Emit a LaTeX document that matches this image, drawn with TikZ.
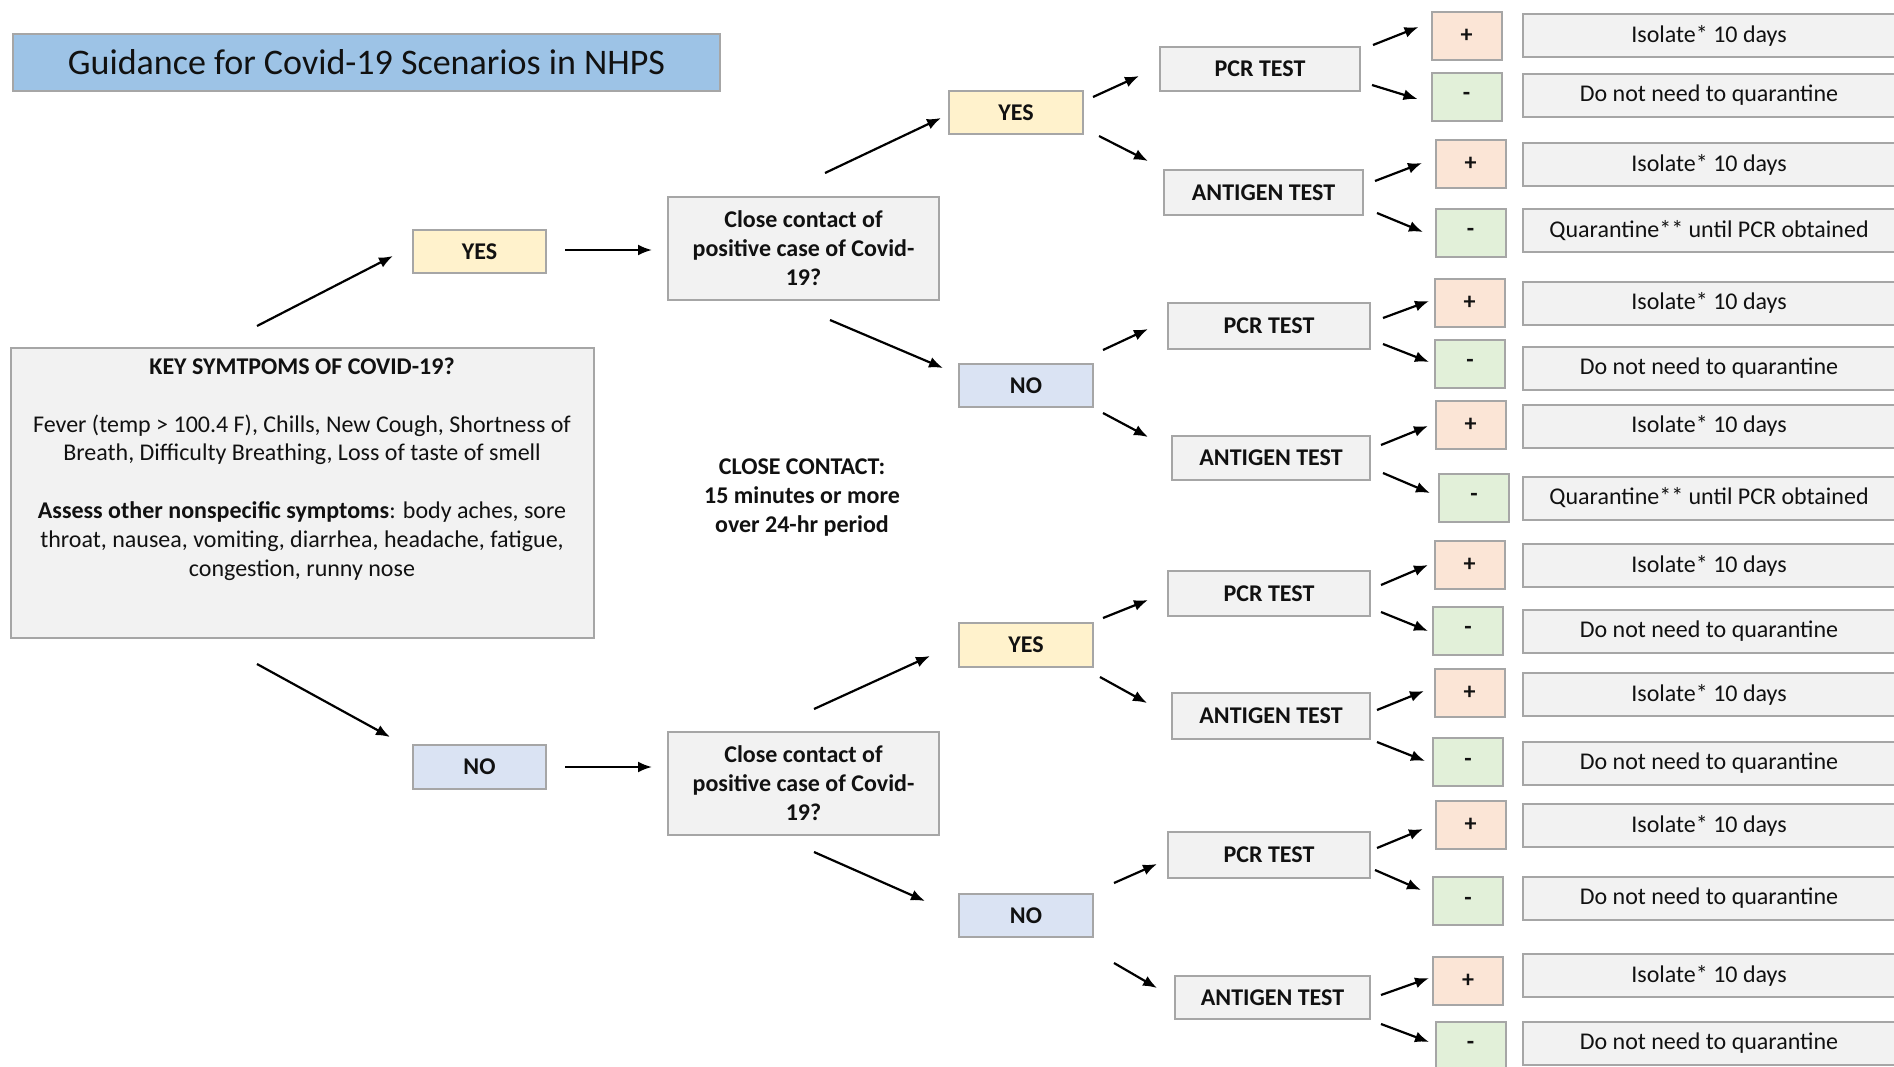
\documentclass[tikz,border=0pt]{standalone}
\usepackage{fontspec}
\setmainfont{Carlito}
\usetikzlibrary{arrows.meta,calc}
\definecolor{bfill}{HTML}{F2F2F2}
\definecolor{bdraw}{HTML}{A6A6A6}
\definecolor{yfill}{HTML}{FFF2CC}
\definecolor{nfill}{HTML}{DAE3F3}
\definecolor{pfill}{HTML}{FBE5D6}
\definecolor{mfill}{HTML}{E2F0D9}
\definecolor{tfill}{HTML}{9DC3E6}
\definecolor{txt}{HTML}{111111}
\newcommand\myarrow[4]{\draw[arr] ($(#1)+(#2)$) -- ($(#3)+(#4)$);}
\begin{document}
\begin{tikzpicture}[x=0.5pt,y=-0.5pt,
  sz/.style 2 args={minimum width=#1*0.5pt, minimum height=#2*0.5pt},
  base/.style={draw=bdraw, line width=1pt, inner sep=0pt, outer sep=0pt, text=txt, align=center},
  gbox/.style={base, fill=bfill, font=\fontsize{12}{14.5}\selectfont},
  lbl/.style={base, fill=bfill, font=\fontsize{12}{14.5}\selectfont\bfseries},
  yesbox/.style={lbl, fill=yfill, sz={134}{43}},
  nobox/.style={lbl, fill=nfill, sz={134}{43}},
  pbox/.style={lbl, fill=pfill, sz={70}{48}},
  mbox/.style={lbl, fill=mfill, sz={70}{48}},
  rbox/.style={gbox, sz={372}{43}},
  arr/.style={-{Latex[length=7pt,width=5.5pt]}, line width=1.1pt, black},
]
\useasboundingbox (0,0) rectangle (1894,1066);
\fill[white] (0,0) rectangle (1894,1066);

% title
\node[base, fill=tfill, sz={707}{57}, font=\fontsize{18}{21}\selectfont] (title) at (366.5,62.5) {Guidance for Covid-19 Scenarios in NHPS};

% key symptoms
\node[base, fill=bfill, sz={583}{290}] (key) at (302.5,493) {};
\node[text=txt, align=center, font=\fontsize{12}{14.4}\selectfont] (keytext) at (302,469)
 {\textbf{KEY SYMTPOMS OF COVID-19?}\\[14.4pt]
  Fever (temp > 100.4 F), Chills, New Cough, Shortness of\\
  Breath, Difficulty Breathing, Loss of taste of smell\\[14.4pt]
  \textbf{Assess other nonspecific  symptoms}: body aches, sore\\
  throat, nausea, vomiting, diarrhea, headache, fatigue,\\
  congestion, runny nose};

% first level
\node[yesbox, sz={133}{43}] (yes1) at (479.5,251.5) {YES};
\node[nobox, sz={133}{44}] (no1) at (479.5,767) {NO};
\node[lbl, sz={271}{103}] (cc1) at (803.5,248.5) {Close contact of\\positive  case of Covid-\\19?};
\node[lbl, sz={271}{103}] (cc2) at (803.5,783.5) {Close contact of\\positive  case of Covid-\\19?};
\node[text=txt, align=center, font=\fontsize{12}{14.5}\selectfont\bfseries] (note) at (802,498) {CLOSE CONTACT:\\15 minutes  or more\\over 24-hr period};

% second level
\node[yesbox] (yes2) at (1016,112.5) {YES};
\node[nobox] (no2) at (1026,385.5) {NO};
\node[yesbox, sz={134}{44}] (yes3) at (1026,645) {YES};
\node[nobox] (no3) at (1026,915.5) {NO};

% tests
\node[lbl, sz={200}{44}] (pcr1) at (1260,69) {PCR TEST};
\node[lbl, sz={199}{45}] (ant1) at (1263.5,192.5) {ANTIGEN TEST};
\node[lbl, sz={202}{46}] (pcr2) at (1269,326) {PCR TEST};
\node[lbl, sz={198}{44}] (ant2) at (1271,458) {ANTIGEN TEST};
\node[lbl, sz={202}{45}] (pcr3) at (1269,593.5) {PCR TEST};
\node[lbl, sz={198}{46}] (ant3) at (1271,716) {ANTIGEN TEST};
\node[lbl, sz={202}{46}] (pcr4) at (1269,855) {PCR TEST};
\node[lbl, sz={195}{43}] (ant4) at (1272.5,997.5) {ANTIGEN TEST};

% plus / minus
\node[pbox] (p1) at (1466.5,35.5) {+};
\node[mbox] (m1) at (1466.5,96.5) {-};
\node[pbox] (p2) at (1470.5,163.5) {+};
\node[mbox] (m2) at (1470.5,232.5) {-};
\node[pbox] (p3) at (1469.5,302.5) {+};
\node[mbox] (m3) at (1470,363.5) {-};
\node[pbox] (p4) at (1470.5,425) {+};
\node[mbox] (m4) at (1474,497.5) {-};
\node[pbox] (p5) at (1469.5,565) {+};
\node[mbox] (m5) at (1468,630.5) {-};
\node[pbox] (p6) at (1469.5,693) {+};
\node[mbox] (m6) at (1468,762) {-};
\node[pbox] (p7) at (1470.5,825) {+};
\node[mbox] (m7) at (1468,901) {-};
\node[pbox] (p8) at (1468,981) {+};
\node[mbox] (m8) at (1470.5,1045.5) {-};

% results
\node[rbox] (r1) at (1709,35.5) {Isolate* 10 days};
\node[rbox] (r2) at (1709,95.5) {Do not  need to quarantine};
\node[rbox] (r3) at (1709,164.5) {Isolate* 10 days};
\node[rbox] (r4) at (1709,230.5) {Quarantine** until  PCR obtained};
\node[rbox] (r5) at (1709,303) {Isolate* 10 days};
\node[rbox] (r6) at (1709,368) {Do not  need to quarantine};
\node[rbox] (r7) at (1709,426) {Isolate* 10 days};
\node[rbox] (r8) at (1709,498) {Quarantine** until  PCR obtained};
\node[rbox] (r9) at (1709,565.5) {Isolate* 10 days};
\node[rbox] (r10) at (1709,631.5) {Do not  need to quarantine};
\node[rbox] (r11) at (1709,694.5) {Isolate* 10 days};
\node[rbox] (r12) at (1709,763.5) {Do not  need to quarantine};
\node[rbox] (r13) at (1709,825.5) {Isolate* 10 days};
\node[rbox] (r14) at (1709,898.5) {Do not  need to quarantine};
\node[rbox] (r15) at (1709,975.5) {Isolate* 10 days};
\node[rbox] (r16) at (1709,1043) {Do not  need to quarantine};

% arrows, first levels
\myarrow{key.north}{-45.5,-22}{yes1.west}{-20,4.5}
\myarrow{yes1.east}{19,-1.5}{cc1.west}{-16,1.5}
\myarrow{key.south}{-45.5,26}{no1.west}{-23,-30}
\myarrow{no1.east}{19,0}{cc2.west}{-16,-16.5}
\myarrow{cc1.north}{21.5,-24}{yes2.west}{-8,5.5}
\myarrow{cc1.south}{26.5,20}{no2.west}{-16,-17.5}
\myarrow{cc2.north}{10.5,-23}{yes3.west}{-29,11}
\myarrow{cc2.south}{10.5,17}{no3.west}{-34,-14.5}

% arrows to tests
\myarrow{yes2.east}{10,-15.5}{pcr1.west}{-21,7}
\myarrow{yes2.east}{16,23.5}{ant1.west}{-16,-31.5}
\myarrow{no2.east}{10,-35.5}{pcr2.west}{-20,3}
\myarrow{no2.east}{10,27.5}{ant2.west}{-24,-21}
\myarrow{yes3.east}{10,-27}{pcr3.west}{-20,6.5}
\myarrow{yes3.east}{7,32}{ant3.west}{-25,-13}
\myarrow{no3.east}{21,-32.5}{pcr4.west}{-11,9}
\myarrow{no3.east}{21,47.5}{ant4.west}{-18,-9.5}

% arrows to results
\myarrow{pcr1.east}{13,-24}{p1.west}{-13,-8.5}
\myarrow{pcr1.east}{12,16}{m1.west}{-14,2.5}
\myarrow{ant1.east}{12,-11.5}{p2.west}{-13.5,-0.5}
\myarrow{ant1.east}{14,20.5}{m2.west}{-12.5,-0.5}
\myarrow{pcr2.east}{13,-8}{p3.west}{-5.5,-1.5}
\myarrow{pcr2.east}{13,18}{m3.west}{-6,-1.5}
\myarrow{ant2.east}{11,-13}{p4.west}{-7.5,1}
\myarrow{ant2.east}{13,15}{m4.west}{-9,-4.5}
\myarrow{pcr3.east}{11,-8.5}{p5.west}{-6.5,0}
\myarrow{pcr3.east}{11,18.5}{m5.west}{-5,0.5}
\myarrow{ant3.east}{7,-6}{p6.west}{-10.5,-2}
\myarrow{ant3.east}{7,26}{m6.west}{-8,-1}
\myarrow{pcr4.east}{7,-7}{p7.west}{-12.5,4}
\myarrow{pcr4.east}{5,15}{m7.west}{-12,-11}
\myarrow{ant4.east}{11,-2.5}{p8.west}{-4,-3}
\myarrow{ant4.east}{11,26.5}{m8.west}{-6.5,-3.5}
\end{tikzpicture}
\end{document}
